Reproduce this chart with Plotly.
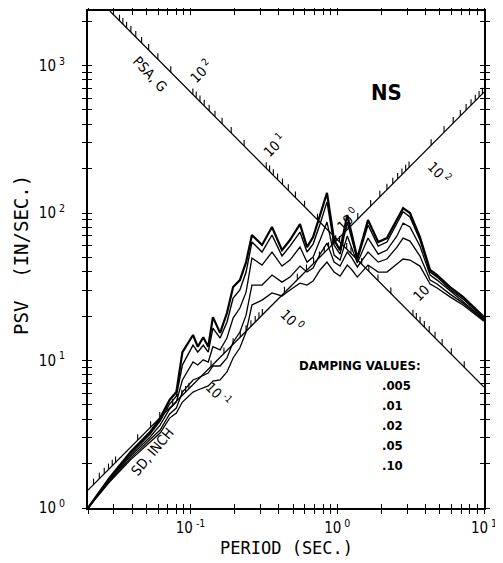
import math
import plotly.graph_objects as go

# ---------------- data ----------------
period = [0.02, 0.028, 0.039, 0.053, 0.062, 0.072, 0.080, 0.088, 0.104, 0.112,
          0.122, 0.132, 0.142, 0.159, 0.177, 0.195, 0.217, 0.239, 0.262, 0.307,
          0.359, 0.42, 0.476, 0.557, 0.622, 0.684, 0.763, 0.851, 0.951, 1.045,
          1.17, 1.26, 1.37, 1.62, 1.90, 2.18, 2.55, 2.81, 3.13, 3.66,
          4.29, 4.79, 5.87, 7.19, 10.0]

psv_005 = [1.00, 1.60, 2.40, 3.27, 4.07, 5.40, 6.11, 11.4, 14.9, 12.4,
           14.4, 12.4, 19.7, 15.4, 21.0, 31.5, 35.1, 46.5, 71.0, 60.7,
           80.4, 56.1, 65.6, 84.2, 58.8, 68.8, 96.9, 137, 65.6, 56.1,
           96.9, 71.0, 49.5, 89.7, 63.6, 67.7, 89.7, 108, 100, 68.8,
           41.1, 38.0, 31.5, 27.0, 19.7]
psv_01 = [1.00, 1.57, 2.32, 3.17, 3.89, 5.07, 5.74, 9.32, 12.7, 11.4,
          12.7, 11.4, 16.6, 14.2, 18.2, 26.5, 30.1, 39.8, 63.6, 54.4,
          71.0, 51.1, 59.7, 74.3, 54.4, 61.6, 84.2, 119, 60.7, 52.7,
          86.9, 65.6, 48.0, 82.9, 59.7, 63.6, 84.2, 102, 94.0, 65.6,
          39.8, 36.8, 30.5, 26.1, 19.4]
psv_02 = [1.00, 1.55, 2.25, 3.03, 3.65, 4.69, 5.23, 7.38, 9.77, 9.32,
          10.1, 9.77, 12.4, 11.8, 14.2, 19.4, 22.7, 29.1, 49.5, 44.4,
          54.4, 43.7, 48.0, 58.8, 46.5, 50.3, 65.6, 86.9, 51.9, 48.0,
          69.9, 57.9, 45.8, 67.7, 52.7, 56.1, 69.9, 85.5, 80.4, 59.7,
          38.0, 35.1, 29.6, 25.3, 19.1]
psv_05 = [1.00, 1.52, 2.18, 2.89, 3.38, 4.34, 4.76, 6.11, 7.38, 7.61,
          7.97, 8.23, 9.18, 9.18, 10.4, 13.3, 15.6, 20.3, 32.5, 32.5,
          38.0, 34.0, 36.8, 43.7, 39.8, 42.4, 52.7, 62.6, 46.5, 43.7,
          54.4, 49.5, 43.1, 54.4, 46.5, 48.8, 58.8, 67.7, 64.6, 51.1,
          35.1, 33.0, 28.2, 24.5, 18.8]
psv_10 = [1.00, 1.50, 2.12, 2.80, 3.22, 4.07, 4.41, 5.23, 6.11, 6.31,
          6.51, 6.72, 7.26, 7.38, 8.36, 10.4, 12.2, 15.6, 23.8, 25.7,
          28.7, 27.4, 30.1, 33.5, 32.5, 34.6, 41.1, 46.5, 39.8, 37.4,
          44.4, 41.1, 36.8, 44.4, 39.8, 39.8, 45.1, 48.8, 48.0, 43.7,
          33.0, 31.0, 27.0, 23.8, 18.5]

damping_labels = [".005", ".01", ".02", ".05", ".10"]
curve_widths = [2.2, 1.4, 1.3, 1.3, 1.3]

x_tick_decades = [0.1, 1, 10]
x_tick_text = ["10<sup> -1</sup>", "10<sup> 0</sup>", "10<sup> 1</sup>"]
y_tick_decades = [1, 10, 100, 1000]
y_tick_text = ["10<sup> 0</sup>", "10<sup> 1</sup>", "10<sup> 2</sup>", "10<sup> 3</sup>"]

psa_label_values = [100, 10, 1, 0.1]
psa_label_text = ["10<sup> 2</sup>", "10<sup> 1</sup>", "10<sup> 0</sup>", "10"]
sd_label_values = [0.1, 1, 100]
sd_label_text = ["10<sup> -1</sup>", "10<sup> 0</sup>", "10<sup> 2</sup>"]

# ---------------- chart constants ----------------
X_MIN, X_MAX = 0.02, 10.0
Y_LOG_MAX = 3.37
PSA_AXIS_C = 1.82     # log10(PSV) + log10(T) along the PSA axis line
SD_AXIS_D = 1.82      # log10(PSV) - log10(T) along the SD axis line
G_IN = 386.1
FONT = "Liberation Sans Narrow, DejaVu Sans Condensed, Arial Narrow, sans-serif"
MONO = "DejaVu Sans Mono, Liberation Mono, monospace"

# page body has an 8px margin: compensate so the plot area lands at
# x 88..484, y 11..508 of the window
BODY = 8
L, R, T, B = 88 - BODY, 19, 11 - BODY, 55
W, H = 503 - BODY, 563 - BODY

fig = go.Figure()

series = [psv_005, psv_01, psv_02, psv_05, psv_10]
for lab, ys, w in zip(damping_labels, series, curve_widths):
    fig.add_trace(go.Scatter(x=period, y=ys, mode="lines", name=lab,
                             line=dict(color="black", width=w),
                             showlegend=False, hoverinfo="skip"))

# PSA axis line (slope -1) and SD axis line (slope +1)
lx0, lx1 = math.log10(X_MIN), math.log10(X_MAX)
psa_t0 = 10 ** (PSA_AXIS_C - Y_LOG_MAX)
fig.add_trace(go.Scatter(x=[psa_t0, X_MAX], y=[10 ** Y_LOG_MAX, 10 ** (PSA_AXIS_C - lx1)],
                         mode="lines", line=dict(color="black", width=1.3),
                         showlegend=False, hoverinfo="skip"))
fig.add_trace(go.Scatter(x=[X_MIN, X_MAX], y=[10 ** (lx0 + SD_AXIS_D), 10 ** (lx1 + SD_AXIS_D)],
                         mode="lines", line=dict(color="black", width=1.3),
                         showlegend=False, hoverinfo="skip"))

TICK_UP = 10 ** (6.0 / 147.5)
logK = math.log10(G_IN / (2 * math.pi))
log2pi = math.log10(2 * math.pi)

def in_plot(lt, lp):
    return lx0 <= lt <= lx1 and 0 <= lp <= Y_LOG_MAX - 0.04

tx, ty = [], []
for k in range(-3, 4):
    for m in range(1, 10):
        p = m * 10 ** k
        lt = (PSA_AXIS_C - logK - math.log10(p)) / 2
        lp = PSA_AXIS_C - lt
        if in_plot(lt, lp):
            tx += [10 ** lt, 10 ** lt, None]
            ty += [10 ** lp, 10 ** lp * TICK_UP, None]
        s = m * 10 ** k
        lt = (log2pi + math.log10(s) - SD_AXIS_D) / 2
        lp = lt + SD_AXIS_D
        if in_plot(lt, lp):
            tx += [10 ** lt, 10 ** lt, None]
            ty += [10 ** lp, 10 ** lp * TICK_UP, None]
fig.add_trace(go.Scatter(x=tx, y=ty, mode="lines", line=dict(color="black", width=1.1),
                         showlegend=False, hoverinfo="skip", connectgaps=False))

# invisible trace for overlay axes (inside ticks)
fig.add_trace(go.Scatter(x=[0.05], y=[5], xaxis="x2", yaxis="y2", mode="markers",
                         marker=dict(opacity=0), showlegend=False, hoverinfo="skip"))

annotations = []
for p, t in zip(psa_label_values, psa_label_text):
    lt = (PSA_AXIS_C - logK - math.log10(p)) / 2
    lp = PSA_AXIS_C - lt
    annotations.append(dict(x=lt, y=lp, xref="x", yref="y", text=t, showarrow=False,
                            xanchor="center", yanchor="middle",
                            xshift=8, yshift=23, textangle=-45,
                            font=dict(family=FONT, size=14, color="black")))
for s, t in zip(sd_label_values, sd_label_text):
    lt = (log2pi + math.log10(s) - SD_AXIS_D) / 2
    lp = lt + SD_AXIS_D
    annotations.append(dict(x=lt, y=lp, xref="x", yref="y", text=t, showarrow=False,
                            xanchor="center", yanchor="middle",
                            xshift=30, yshift=-5, textangle=45,
                            font=dict(family=FONT, size=14, color="black")))

def px(xp):
    return (xp - 88) / 396.0

def py(yp):
    return (508 - yp) / 497.0

def ann(xp, yp, text, size, family=FONT, angle=0, xanchor="center"):
    return dict(x=px(xp), y=py(yp), xref="paper", yref="paper", text=text,
                showarrow=False, textangle=angle, xanchor=xanchor, yanchor="middle",
                font=dict(family=family, size=size, color="black"))

annotations += [
    ann(150, 74, "PSA, G", 14, angle=47),
    ann(152, 452, "SD, INCH", 14, angle=-50),
    ann(386, 93, "<b>NS</b>", 22),
    ann(360, 365, "<b>DAMPING VALUES:</b>", 13),
    ann(286, 548, "PERIOD (SEC.)", 17, family=MONO),
    ann(21, 255, "PSV  (IN/SEC.)", 19, family=MONO, angle=-90),
]
for i, lab in enumerate(damping_labels):
    annotations.append(ann(380, 385 + 20 * i, "<b>" + lab + "</b>", 13, xanchor="left"))

x_all = [m * 10 ** k for k in range(-2, 2) for m in range(1, 10) if X_MIN <= m * 10 ** k <= X_MAX]
x_txt = [x_tick_text[x_tick_decades.index(v)] if v in x_tick_decades else "" for v in x_all]
y_all = [m * 10 ** k for k in range(0, 4) for m in range(1, 10) if m * 10 ** k <= 10 ** Y_LOG_MAX]
y_txt = [y_tick_text[y_tick_decades.index(v)] if v in y_tick_decades else "" for v in y_all]

common = dict(type="log", showgrid=False, zeroline=False, tickcolor="black",
              tickwidth=1.4, ticklen=4)
fig.update_layout(
    width=W, height=H,
    margin=dict(l=L, r=R, t=T, b=B, autoexpand=False),
    paper_bgcolor="white", plot_bgcolor="white",
    xaxis=dict(range=[lx0, lx1], tickvals=x_all, ticktext=x_txt, ticks="outside",
               showline=True, linecolor="black", linewidth=2, mirror="ticks",
               ticklabelstandoff=1,
               tickfont=dict(family=FONT, size=15, color="black"), **common),
    yaxis=dict(range=[0, Y_LOG_MAX], tickvals=y_all, ticktext=y_txt, ticks="outside",
               showline=True, linecolor="black", linewidth=2, mirror="ticks",
               ticklabelstandoff=14,
               tickfont=dict(family=FONT, size=15, color="black"), **common),
    xaxis2=dict(range=[lx0, lx1], tickvals=x_all, ticks="inside", overlaying="x",
                anchor="y2", showticklabels=False, showline=False, mirror="ticks", **common),
    yaxis2=dict(range=[0, Y_LOG_MAX], tickvals=y_all, ticks="inside", overlaying="y",
                anchor="x2", showticklabels=False, showline=False, mirror="ticks", **common),
    annotations=annotations,
)

fig.write_html("out.html")
